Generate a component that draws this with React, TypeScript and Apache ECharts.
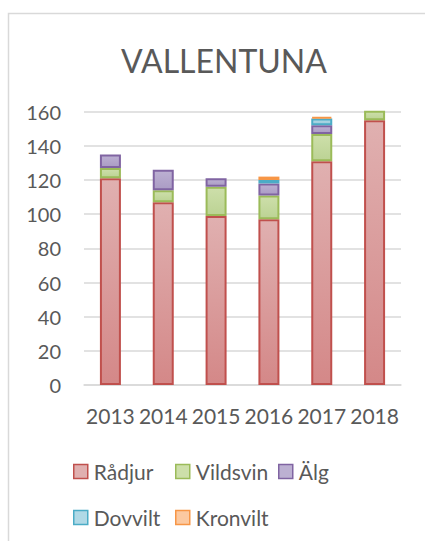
import React, { useEffect, useRef } from "react";
import * as echarts from "echarts";

const years = ["2013", "2014", "2015", "2016", "2017", "2018"];
const radjur = [121, 107, 99, 97, 131, 155];
const vildsvin = [6, 7, 17, 14, 16, 10];
const alg = [8, 12, 5, 7, 5, null];
const dovvilt = [null, null, null, 2, 4, null];
const kronvilt = [null, null, null, 2, 1, null];
const yTicks = { min: 0, max: 160, interval: 20 };

const FONT = "Lato";
const TEXT = "#595959";

const seriesDefs = [
  { name: "Rådjur", data: radjur, top: "#e0b0b0", bottom: "#d48888", border: "#c0504d" },
  { name: "Vildsvin", data: vildsvin, top: "#cddfaa", bottom: "#bcd394", border: "#9bbb59" },
  { name: "Älg", data: alg, top: "#bcb0d2", bottom: "#ab9cc5", border: "#8064a2" },
  { name: "Dovvilt", data: dovvilt, top: "#b0d9e6", bottom: "#9ccbdb", border: "#4bacc6" },
  { name: "Kronvilt", data: kronvilt, top: "#fcc9a0", bottom: "#f9b783", border: "#f79646" },
];

const legendPos = [
  { left: 73, top: 461 },
  { left: 175, top: 461 },
  { left: 278, top: 461 },
  { left: 73, top: 507 },
  { left: 175, top: 507 },
];

export default function App() {
  const ref = useRef<HTMLDivElement>(null);
  useEffect(() => {
    if (!ref.current) return;
    const chart = echarts.init(ref.current, null, { renderer: "svg" });
    chart.setOption({
      animation: false,
      title: {
        text: "VALLENTUNA",
        left: 219,
        top: 39,
        textAlign: "center",
        textStyle: { fontFamily: FONT, fontSize: 32, fontWeight: "normal", color: TEXT },
      },
      graphic: [
        {
          type: "rect",
          shape: { x: 8.5, y: 13.5, width: 440, height: 560 },
          style: { fill: "none", stroke: "#d9d9d9", lineWidth: 1.5 },
          silent: true,
        },
      ],
      legend: seriesDefs.map((s, i) => ({
        data: [
          {
            name: s.name,
            itemStyle: { color: s.top, borderColor: s.border, borderWidth: 1.5 },
          },
        ],
        left: legendPos[i].left,
        top: legendPos[i].top,
        icon: "rect",
        itemWidth: 14,
        itemHeight: 14,
        itemGap: 0,
        padding: 0,
        selectedMode: false,
        textStyle: { fontFamily: FONT, fontSize: 21, color: TEXT, padding: [0, 0, 0, 1] },
      })),
      grid: { left: 84, right: 24, top: 111.7, bottom: 156, containLabel: false },
      xAxis: {
        type: "category",
        data: years,
        axisLine: { show: true, lineStyle: { color: "#d9d9d9", width: 1.5 } },
        axisTick: { show: false },
        axisLabel: { fontFamily: FONT, fontSize: 21, color: TEXT, margin: 20, interval: 0 },
      },
      yAxis: {
        type: "value",
        min: yTicks.min,
        max: yTicks.max,
        interval: yTicks.interval,
        axisLine: { show: false },
        axisTick: { show: false },
        splitLine: { lineStyle: { color: "#d9d9d9", width: 1.5 } },
        axisLabel: { fontFamily: FONT, fontSize: 20, color: TEXT, margin: 23 },
      },
      series: seriesDefs.map((s) => ({
        name: s.name,
        type: "bar",
        stack: "total",
        barWidth: 21,
        clip: true,
        data: s.data,
        itemStyle: {
          color: new echarts.graphic.LinearGradient(0, 0, 0, 1, [
            { offset: 0, color: s.top },
            { offset: 1, color: s.bottom },
          ]),
          borderColor: s.border,
          borderWidth: 2,
        },
        emphasis: { disabled: true },
      })),
    });
    return () => chart.dispose();
  }, []);
  return (
    <div
      ref={ref}
      style={{ position: "absolute", left: 0, top: 0, width: 425, height: 541 }}
    />
  );
}
